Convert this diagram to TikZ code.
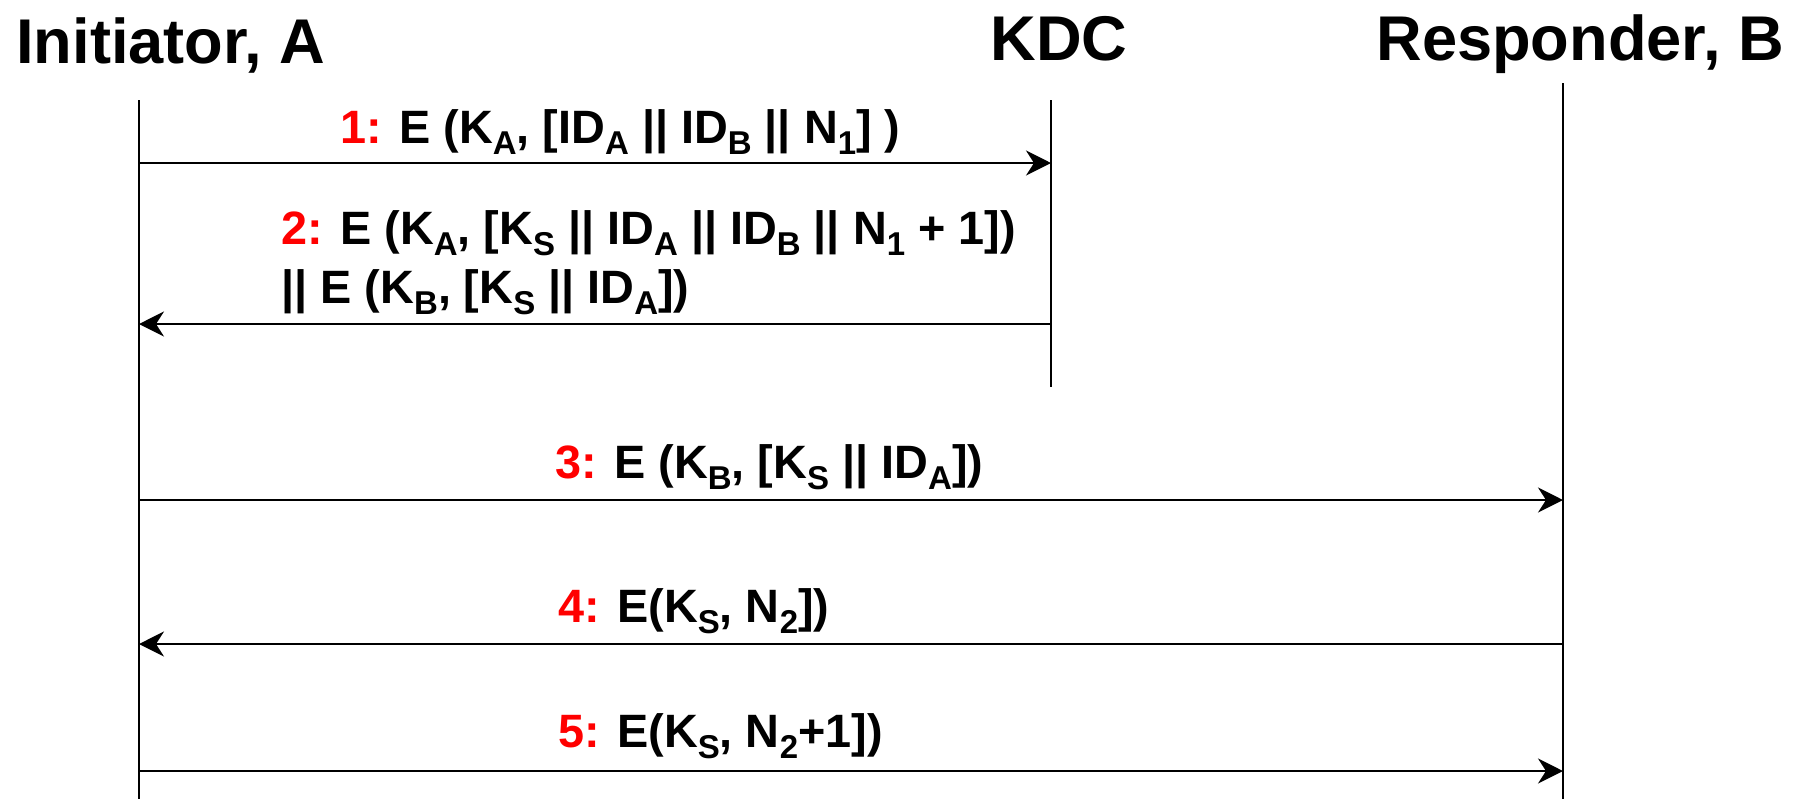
\documentclass[tikz,border=0pt]{standalone}
\usepackage{fontspec}
\setmainfont{Liberation Sans}
\usetikzlibrary{arrows.meta}
\definecolor{numred}{RGB}{255,0,0}
\newcommand\sbx[1]{\raisebox{-0.24em}{\fontsize{16.5}{16.5}\selectfont #1}}
\newcommand\nm[1]{\textcolor{numred}{#1}}
\tikzset{
  title/.style={font=\fontsize{31.6}{36}\selectfont\bfseries, inner sep=0pt, anchor=base west},
  lbl/.style={font=\fontsize{23.4}{28.5}\selectfont\bfseries, inner sep=0pt, anchor=base west, align=left},
  life/.style={line width=1pt, black},
  msg/.style={line width=0.9pt, black, -{Stealth[length=12.5pt, width=12.5pt, inset=4pt]}}
}
\begin{document}
\begin{tikzpicture}[x=0.5pt, y=-0.5pt]
\useasboundingbox (0,0) rectangle (1801,799);
% titles
\node[title] (tA) at (16,63) {Initiator, A};
\node[title] (tK) at (990,60) {KDC};
\node[title] (tB) at (1376,60) {Responder, B};
% lifelines
\coordinate (aTop) at (139,100);
\coordinate (aBot) at (139,799);
\coordinate (kTop) at (1051,100);
\coordinate (kBot) at (1051,387);
\coordinate (bTop) at (1563,83);
\coordinate (bBot) at (1563,799);
\draw[life] (aTop) -- (aBot);
\draw[life] (kTop) -- (kBot);
\draw[life] (bTop) -- (bBot);
% message anchor points
\coordinate (a1) at (139,163);  \coordinate (k1) at (1051,163);
\coordinate (a2) at (139,324);  \coordinate (k2) at (1051,324);
\coordinate (a3) at (139,500);  \coordinate (b3) at (1563,500);
\coordinate (a4) at (139,644);  \coordinate (b4) at (1563,644);
\coordinate (a5) at (139,771);  \coordinate (b5) at (1563,771);
\draw[msg] (a1) -- (k1);
\draw[msg] (k2) -- (a2);
\draw[msg] (a3) -- (b3);
\draw[msg] (b4) -- (a4);
\draw[msg] (a5) -- (b5);
% labels
\node[lbl] (l1) at (340,143) {\nm{1:} E (K\sbx{A}, [ID\sbx{A} || ID\sbx{B} || N\sbx{1}] )};
\node[lbl, anchor=north west] (l2) at (281,210) {\nm{2:} E (K\sbx{A}, [K\sbx{S} || ID\sbx{A} || ID\sbx{B} || N\sbx{1} + 1])\\[1pt]|| E (K\sbx{B}, [K\sbx{S} || ID\sbx{A}])};
\node[lbl] (l3) at (555,478) {\nm{3:} E (K\sbx{B}, [K\sbx{S} || ID\sbx{A}])};
\node[lbl] (l4) at (558,622) {\nm{4:} E(K\sbx{S}, N\sbx{2}])};
\node[lbl] (l5) at (558,747) {\nm{5:} E(K\sbx{S}, N\sbx{2}+1])};
\end{tikzpicture}
\end{document}
